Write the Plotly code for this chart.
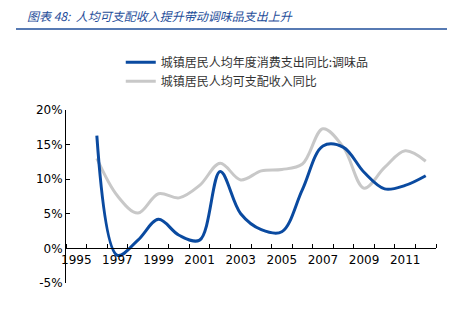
import plotly.graph_objects as go

years = list(range(1996, 2013))
seasoning_yoy = [16.3, -1.0, 1.2, 4.2, 1.9, 1.2, 11.1, 5.0, 2.7, 2.4, 8.5, 14.8, 14.6, 11.0, 8.6, 9.1, 10.5]
income_yoy = [13.0, 7.6, 5.1, 7.9, 7.3, 9.1, 12.3, 9.9, 11.2, 11.4, 12.2, 17.3, 14.6, 8.7, 11.7, 14.1, 12.6]
x_labels = [1995, 1997, 1999, 2001, 2003, 2005, 2007, 2009, 2011]
y_ticks = [-5, 0, 5, 10, 15, 20]

name_blue = "城镇居民人均年度消费支出同比:调味品"
name_gray = "城镇居民人均可支配收入同比"
title = "<i>图表 48:  人均可支配收入提升带动调味品支出上升</i>"

fig = go.Figure()
fig.add_trace(go.Scatter(x=years, y=income_yoy, name=name_gray, mode="lines",
                         line=dict(color="#C8C8C8", width=3, shape="spline", smoothing=1.0)))
fig.add_trace(go.Scatter(x=years, y=seasoning_yoy, name=name_blue, mode="lines",
                         line=dict(color="#0A4AA0", width=3, shape="spline", smoothing=1.0)))

fig.update_layout(
    width=457, height=329,
    margin=dict(l=66, r=21, t=110, b=46),
    paper_bgcolor="white", plot_bgcolor="white",
    font=dict(family="DejaVu Sans", size=11, color="black"),
    showlegend=True,
    legend=dict(x=0.148, y=1.36, xanchor="left", yanchor="top", traceorder="reversed",
                font=dict(family="Noto Sans CJK SC", size=12, color="#333333"),
                bgcolor="rgba(0,0,0,0)", itemwidth=30),
    xaxis=dict(range=[1994.5, 2012.5], tickvals=x_labels, ticktext=[str(v) for v in x_labels],
               ticks="", showgrid=False, zeroline=False, showline=True, linecolor="black",
               linewidth=1, anchor="free", position=0.2,
               tickfont=dict(family="DejaVu Sans", size=12),
               minor=dict(tickvals=[1994.5 + i for i in range(19)], ticks="inside",
                          ticklen=4, tickcolor="black", tickwidth=1, showgrid=False)),
    yaxis=dict(range=[-5, 20], tickvals=y_ticks, ticktext=[f"{v}%" for v in y_ticks],
               ticks="inside", ticklen=4, tickcolor="black", showgrid=False, zeroline=False,
               showline=True, linecolor="black", linewidth=1,
               tickfont=dict(family="DejaVu Sans", size=12)),
)

fig.add_annotation(text=title, xref="paper", yref="paper", x=(25 - 66) / 370, y=(283 - 15) / 173,
                   xanchor="left", yanchor="middle", showarrow=False,
                   font=dict(family="Noto Sans CJK SC", size=12, color="#1F4E9A"))
fig.add_shape(type="line", xref="paper", yref="paper",
              x0=(16 - 66) / 370, x1=(447 - 66) / 370,
              y0=(283 - 29) / 173, y1=(283 - 29) / 173,
              line=dict(color="#1F4E9A", width=1.5))

fig.write_html("out.html")
